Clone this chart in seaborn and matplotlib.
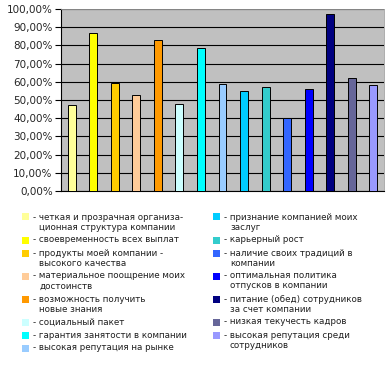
import matplotlib
matplotlib.use("Agg")
import matplotlib.pyplot as plt
from matplotlib.patches import Rectangle
from matplotlib.ticker import FuncFormatter, MultipleLocator
import seaborn as sns

# данные
labels = [
    "- четкая и прозрачная организа-\nционная структура компании",
    "- своевременность всех выплат",
    "- продукты моей компании -\nвысокого качества",
    "- материальное поощрение моих\nдостоинств",
    "- возможность получить\nновые знания",
    "- социальный пакет",
    "- гарантия занятости в компании",
    "- высокая репутация на рынке",
    "- признание компанией моих\nзаслуг",
    "- карьерный рост",
    "- наличие своих традиций в\nкомпании",
    "- оптимальная политика\nотпусков в компании",
    "- питание (обед) сотрудников\nза счет компании",
    "- низкая текучесть кадров",
    "- высокая репутация среди\nсотрудников",
]
values = [47.1, 86.6, 59.5, 52.6, 82.8, 47.6, 78.8, 58.6, 54.8, 57.0, 40.0, 55.9, 97.3, 61.9, 58.1]
colors = ["#FFFF99", "#FFFF00", "#FFCC00", "#FFCC99", "#FF9900", "#CCFFFF", "#00FFFF", "#99CCFF",
          "#00CCFF", "#33CCCC", "#3366FF", "#0000FF", "#000080", "#666699", "#9999FF"]

sns.set_style("white")
plt.rcParams['font.family'] = ['DejaVu Sans']

W, H = 391, 366
fig = plt.figure(figsize=(W/100, H/100), dpi=100)
ax = fig.add_axes([61/W, 1 - 191/H, (384 - 61)/W, (191 - 9)/H])
ax.set_facecolor("#C0C0C0")

keys = [str(i) for i in range(len(values))]
sns.barplot(x=keys, y=values, hue=keys, palette=colors, legend=False,
            width=0.37, edgecolor="black", linewidth=0.7, saturation=1, ax=ax, zorder=3)

ax.set_ylim(0, 100)
ax.set_xlim(-0.5, len(values) - 0.5)
ax.yaxis.set_major_locator(MultipleLocator(10))
ax.yaxis.set_major_formatter(FuncFormatter(lambda v, p: f"{v:.2f}".replace(".", ",") + "%"))
ax.grid(axis="y", color="black", linewidth=0.8, zorder=0)
ax.set_axisbelow(True)
ax.set_xticks([])
ax.set_xlabel("")
ax.set_ylabel("")
ax.tick_params(axis="y", length=4, width=0.8, color="black", labelsize=7.5, pad=2, left=True)
for s in ["left", "bottom"]:
    ax.spines[s].set_color("black")
    ax.spines[s].set_linewidth(0.8)
for s in ["top", "right"]:
    ax.spines[s].set_color("#A0A0A0")
    ax.spines[s].set_linewidth(0.6)


# легенда в две колонки (рисуем вручную, в пикселях)
def draw_legend(items, x0, y0):
    y = y0
    for lab, col in items:
        lines = lab.split("\n")
        fig.patches.append(Rectangle(((x0) / W, 1 - (y + 3.5) / H), 7 / W, 7 / H,
                                     transform=fig.transFigure, facecolor=col,
                                     edgecolor="none", figure=fig))
        for k, line in enumerate(lines):
            fig.text((x0 + 11 + (6 if k else 0)) / W, 1 - (y + 10 * k) / H, line,
                     fontsize=6.3, va="center", ha="left", color="#202020")
        y += 10 * (len(lines) - 1) + 13


pairs = list(zip(labels, colors))
draw_legend(pairs[:8], 22, 217)
draw_legend(pairs[8:], 213, 217)

fig.savefig("out.png", dpi=100)
